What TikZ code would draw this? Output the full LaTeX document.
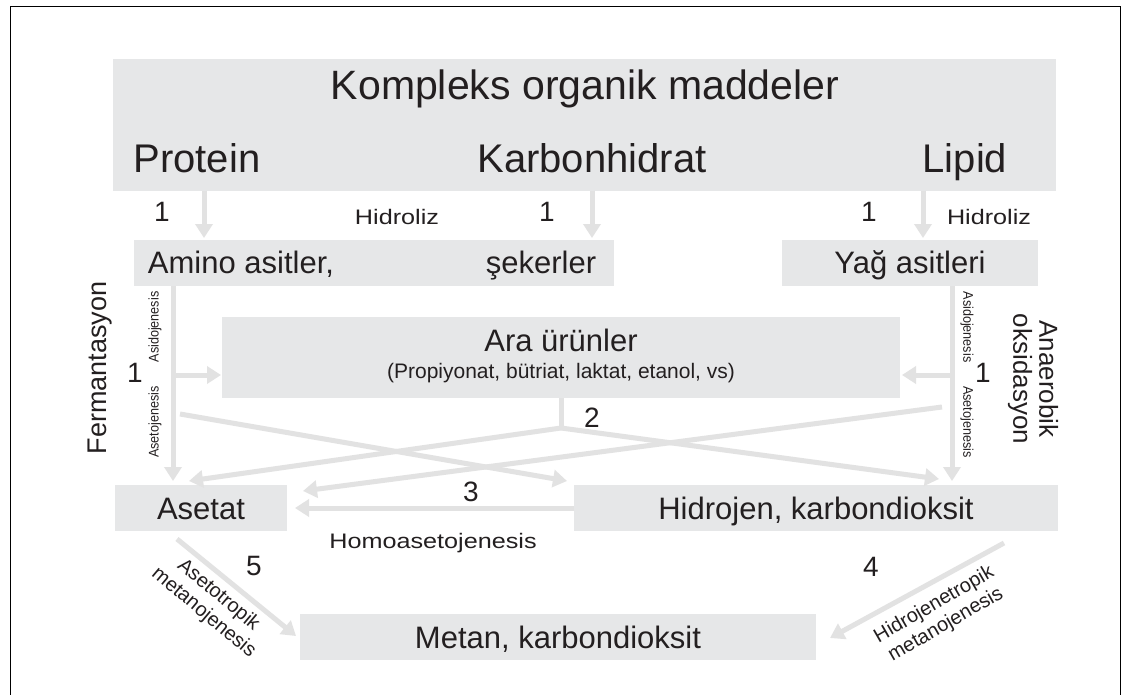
\documentclass[tikz,border=0pt]{standalone}
\usepackage{fontspec}
\setmainfont{Liberation Sans}
\newfontfamily\nfont[FakeStretch=0.9]{Liberation Sans}
\newfontfamily\wfont[FakeStretch=1.2]{Liberation Sans}
\usetikzlibrary{arrows.meta}
\definecolor{boxgray}{HTML}{E6E7E8}
\definecolor{arrgray}{HTML}{E2E2E2}
\definecolor{txt}{HTML}{231F20}
\newcommand{\fsz}[1]{\fontsize{#1}{#1}\selectfont}
\begin{document}
\begin{tikzpicture}[x=1pt,y=-1pt,
  box/.style={fill=boxgray, draw=none, inner sep=0pt},
  conn/.style={draw=arrgray, line width=5pt},
  arr/.style={conn, -{Triangle[width=17pt,length=14pt]}},
  lbl/.style={inner sep=0pt, text=txt},
  big/.style={lbl, font=\fsz{40}, anchor=base},
  mid/.style={lbl, font=\fsz{31}, anchor=base},
  num/.style={lbl, font=\fsz{28}, anchor=base},
  small/.style={lbl, font=\wfont\fsz{21}, anchor=base},
  tiny/.style={lbl, font=\nfont\fsz{14}},
  diag/.style={lbl, font=\fontsize{20}{23}\selectfont, align=center}
]
\useasboundingbox (0,0) rectangle (1132,695);
\fill[white] (0,0) rectangle (1132,695);
\draw[line width=1pt] (10,695) -- (10,7) -- (1120,7) -- (1120,695);

% boxes
\node[box, minimum width=943pt, minimum height=132pt] (top) at (584.5,125) {};
\node[box, minimum width=480pt, minimum height=46pt] (amino) at (374,263) {};
\node[box, minimum width=256pt, minimum height=46pt] (yag) at (910,263) {};
\node[box, minimum width=678pt, minimum height=81pt] (ara) at (561,357.5) {};
\node[box, minimum width=172pt, minimum height=46pt] (asetat) at (201,508) {};
\node[box, minimum width=484pt, minimum height=46pt] (hidro) at (816,508) {};
\node[box, minimum width=516pt, minimum height=46pt] (metan) at (558,637) {};

% box texts
\node[big, font=\fsz{41}] (tkomp) at (585,100) {Kompleks organik maddeler};
\node[big] (tprot) at (197,173) {Protein};
\node[big] (tkarb) at (592,173) {Karbonhidrat};
\node[big] (tlip) at (965,173) {Lipid};
\node[mid] (tamino) at (241,273) {Amino asitler,};
\node[mid] (tseker) at (541,273) {şekerler};
\node[mid] (tyag) at (910,273) {Yağ asitleri};
\node[mid] (tara) at (561,351) {Ara ürünler};
\node[lbl, font=\fsz{21}, anchor=base] (tsub) at (561,378) {(Propiyonat, bütriat, laktat, etanol, vs)};
\node[mid] (tasetat) at (201,519) {Asetat};
\node[mid] (thidro) at (816,519) {Hidrojen, karbondioksit};
\node[mid] (tmetan) at (558,648) {Metan, karbondioksit};

% coordinates
\coordinate (p1) at (204,191); \coordinate (q1) at (204,238);
\coordinate (p2) at (592,191); \coordinate (q2) at (592,238);
\coordinate (p3) at (923,191); \coordinate (q3) at (923,238);
\coordinate (lt) at (173,286); \coordinate (lb) at (173,481); \coordinate (lm) at (173,375); \coordinate (lme) at (221,375);
\coordinate (rt) at (952,286); \coordinate (rb) at (952,481); \coordinate (rm) at (952,375); \coordinate (rme) at (902,375);
\coordinate (ab) at (561,398); \coordinate (J) at (561,428);
\coordinate (ja) at (189,481); \coordinate (jh) at (939,479);
\coordinate (c1s) at (180,414); \coordinate (c1e) at (567,481);
\coordinate (c2s) at (942,407); \coordinate (c2e) at (303,491);
\coordinate (hs) at (574,508); \coordinate (he) at (295,508);
\coordinate (m5s) at (177,539); \coordinate (m5e) at (296,636);
\coordinate (m4s) at (1004,543); \coordinate (m4e) at (830,638);

% connectors
\draw[arr] (p1) -- (q1);
\draw[arr] (p2) -- (q2);
\draw[arr] (p3) -- (q3);
\draw[arr] (lt) -- (lb);
\draw[arr] (lm) -- (lme);
\draw[arr] (rt) -- (rb);
\draw[arr] (rm) -- (rme);
\draw[conn] (ab) -- (J);
\draw[arr] (J) -- (ja);
\draw[arr] (J) -- (jh);
\draw[arr] (c1s) -- (c1e);
\draw[arr] (c2s) -- (c2e);
\draw[arr] (hs) -- (he);
\draw[arr] (m5s) -- (m5e);
\draw[arr] (m4s) -- (m4e);

% labels
\node[num] (n1a) at (162,222) {1};
\node[small] (h1) at (397,224) {Hidroliz};
\node[num] (n1b) at (547,222) {1};
\node[num] (n1c) at (869,222) {1};
\node[small] (h2) at (989,224) {Hidroliz};
\node[lbl, font=\fsz{27}, rotate=90] (ferm) at (100,368) {Fermantasyon};
\node[tiny, rotate=90] (asL) at (155,327) {Asidojenesis};
\node[tiny, rotate=90] (aeL) at (155,422) {Asetojenesis};
\node[num] (n1l) at (135,382) {1};
\node[tiny, rotate=-90] (asR) at (967,327) {Asidojenesis};
\node[tiny, rotate=-90] (aeR) at (967,422) {Asetojenesis};
\node[num] (n1r) at (983,382) {1};
\node[lbl, font=\fsz{26}, rotate=-90, align=center] (anox) at (1033,379) {Anaerobik\\oksidasyon};
\node[num] (n2) at (592,427) {2};
\node[num] (n3) at (471,501) {3};
\node[small] (homo) at (433,548) {Homoasetojenesis};
\node[num] (n5) at (254,575) {5};
\node[num] (n4) at (871,576) {4};
\node[diag, rotate=-40] (aset) at (211,604) {Asetotropik\\metanojenesis};
\node[diag, rotate=30] (hidm) at (940,615) {Hidrojenetropik\\metanojenesis};
\end{tikzpicture}
\end{document}
